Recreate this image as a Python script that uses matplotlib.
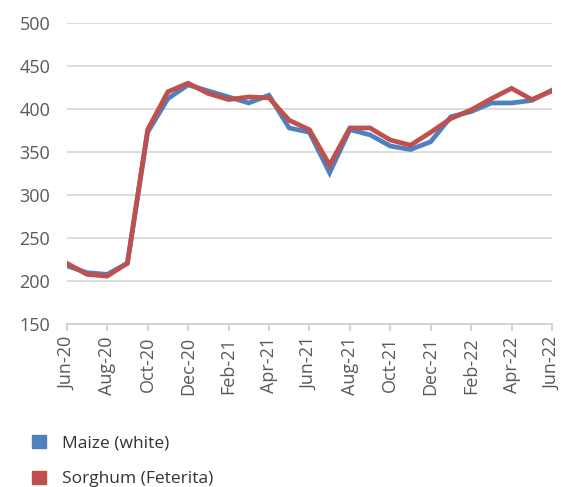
import matplotlib
matplotlib.use("Agg")
import matplotlib.pyplot as plt
from matplotlib.patches import Patch

plt.rcParams['font.family'] = ['Open Sans', 'DejaVu Sans']

# monthly prices, Jun-20 .. Jun-22
months = ['Jun-20', 'Jul-20', 'Aug-20', 'Sep-20', 'Oct-20', 'Nov-20', 'Dec-20',
          'Jan-21', 'Feb-21', 'Mar-21', 'Apr-21', 'May-21', 'Jun-21', 'Jul-21',
          'Aug-21', 'Sep-21', 'Oct-21', 'Nov-21', 'Dec-21', 'Jan-22', 'Feb-22',
          'Mar-22', 'Apr-22', 'May-22', 'Jun-22']
maize = [218, 210, 208, 221, 373, 412, 428, 421, 414, 407, 416, 378, 373, 326,
         376, 370, 357, 353, 362, 391, 397, 407, 407, 410, 422]
sorghum = [221, 208, 206, 221, 376, 420, 430, 418, 411, 414, 413, 387, 376, 335,
           378, 378, 364, 358, 373, 389, 399, 412, 424, 411, 421]

blue = '#4F81BD'
red = '#C0504D'
grey = '#595959'

fig = plt.figure(figsize=(5.61, 4.87), dpi=100)
ax = fig.add_axes([0.119, 0.334, 0.865, 0.619])

x = range(len(months))
ax.plot(x, maize, color=blue, lw=3.4, solid_joinstyle='miter')
ax.plot(x, sorghum, color=red, lw=3.4, solid_joinstyle='miter')

ax.set_ylim(150, 500)
ax.set_yticks(range(150, 501, 50))
ax.set_xlim(0, len(months) - 1)
ax.set_xticks(range(0, len(months), 2))
ax.set_xticklabels(months[::2], rotation=90)

ax.grid(axis='y', color='#d9d9d9', lw=1.3)
ax.set_axisbelow(True)
for s in ['left', 'right', 'top']:
    ax.spines[s].set_visible(False)
ax.spines['bottom'].set_color('#d0d0d0')
ax.spines['bottom'].set_linewidth(1.3)
ax.tick_params(axis='y', length=0, labelsize=13, labelcolor=grey, pad=12)
ax.tick_params(axis='x', length=5, color='#d0d0d0', width=1.3,
               labelsize=13, labelcolor=grey, pad=4)

handles = [Patch(color=blue, label='Maize (white)'),
           Patch(color=red, label='Sorghum (Feterita)')]
fig.legend(handles=handles, loc='lower left', bbox_to_anchor=(0.03, -0.033),
           frameon=False, fontsize=12.5, labelcolor='#333333',
           handlelength=0.8, handleheight=0.8, handletextpad=0.9,
           labelspacing=1.1)

fig.savefig('out.png', dpi=100)
